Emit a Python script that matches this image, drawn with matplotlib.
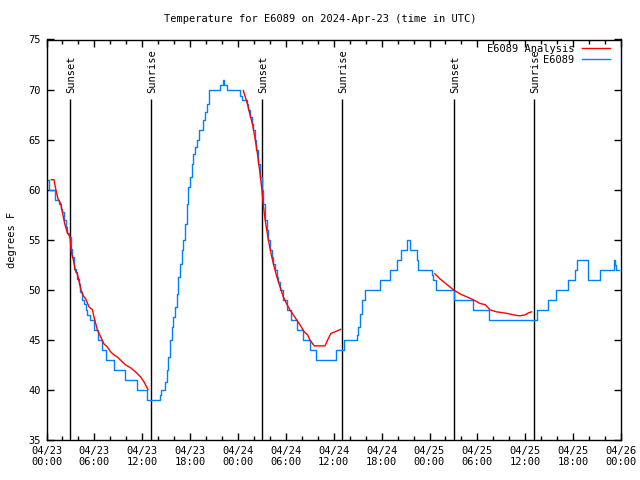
import matplotlib
matplotlib.use("Agg")
import matplotlib.pyplot as plt
import numpy as np

# ---- data (hours since 2024-04-23 00:00 UTC) ----
obs_t = [0.0, 0.31, 1.07, 1.57, 1.78, 1.98, 2.19, 2.4, 2.61, 2.82, 3.03, 3.24, 3.45, 3.66,
         3.86, 4.07, 4.2, 4.49, 4.7, 4.91, 5.1, 5.45, 5.9, 6.45, 6.95, 7.5, 8.46, 9.9,
         11.4, 12.6, 14.2, 14.4, 14.85, 15.06, 15.27, 15.48, 15.69, 15.9, 16.1, 16.3,
         16.5, 16.73, 16.94, 17.14, 17.36, 17.57, 17.77, 17.98, 18.2, 18.4, 18.6, 18.8,
         19.15, 19.65, 19.86, 20.15, 20.4, 21.8, 22.08, 22.3, 22.58, 24.25, 24.46, 25.1,
         25.3, 25.5, 25.7, 25.9, 26.1, 26.3, 26.5, 26.75, 26.97, 27.17, 27.38, 27.6,
         27.8, 28.0, 28.2, 28.4, 28.6, 28.85, 29.05, 29.26, 29.67, 30.1, 30.64, 31.35,
         32.2, 33.0, 33.77, 36.3, 37.25, 38.9, 39.0, 39.3, 39.6, 39.9, 41.8, 43.1, 43.9,
         44.4, 45.15, 45.6, 46.4, 46.6, 48.3, 48.5, 48.8, 51.05, 53.4, 55.45, 61.5,
         62.8, 63.8, 65.3, 66.2, 66.5, 67.85, 69.35, 71.1, 71.2, 71.4, 71.8]
obs_v = [61, 60, 59, 58.6, 58.1, 57.8, 57.0, 56.3, 55.7, 55.3, 54.1, 53.3, 52.1, 51.8,
         51.1, 50.6, 49.8, 49.0, 48.6, 48.0, 47.5, 47.0, 46.0, 45.0, 44.0, 43.0, 42.0, 41.0,
         40.0, 39.0, 39.5, 40.0, 40.8, 42.0, 43.3, 45.0, 46.3, 47.3, 48.3, 49.6,
         51.3, 52.6, 54.0, 55.0, 56.6, 58.6, 60.3, 61.3, 62.6, 63.6, 64.3, 65.0,
         66.0, 67.0, 67.8, 68.6, 70.0, 70.5, 71.0, 70.5, 70.0, 69.4, 69.0, 68.6,
         68.0, 67.3, 66.6, 66.0, 65.0, 64.0, 62.6, 61.3, 60.0, 58.6, 57.0, 56.0,
         55.0, 54.0, 53.3, 52.6, 52.0, 51.3, 50.8, 50.0, 49.0, 48.0, 47.0, 46.0,
         45.0, 44.0, 43.0, 44.0, 45.0, 45.5, 46.3, 47.6, 49.0, 50.0, 51.0, 52.0, 53.0,
         54.0, 55.0, 54.0, 53.0, 52.0, 51.5, 51.0, 50.0, 49.0, 48.0, 47.0, 48.0,
         49.0, 50.0, 51.0, 52.0, 53.0, 51.0, 52.0, 53.0, 52.5, 52.0, 52.0]

ana1_t = [0.6, 0.93, 1.15, 1.44, 1.78, 1.98, 2.28, 2.61, 2.95, 3.1, 3.36, 3.66, 3.86, 4.07,
          4.28, 4.61, 4.91, 5.33, 5.75, 5.95, 6.37, 6.79, 7.2, 7.62, 8.04, 8.46, 8.87,
          9.5, 9.92, 10.55, 11.17, 11.8, 12.22, 12.72]
ana1_v = [61, 61, 60.1, 59.1, 58.6, 57.8, 56.6, 55.7, 55.3, 53.8, 53.0, 51.8, 51.6, 50.9,
          50.1, 49.4, 49.1, 48.3, 48.0, 47.3, 46.0, 45.3, 44.6, 44.3, 43.8, 43.5, 43.3,
          42.8, 42.5, 42.2, 41.8, 41.3, 40.8, 40.05]
ana2_t = [24.66, 24.9, 25.2, 25.5, 25.8, 26.1, 26.4, 26.7, 27.0, 27.2, 27.4, 27.6, 27.8,
          28.0, 28.2, 28.5, 28.8, 29.1, 29.4, 29.67, 30.1, 30.5, 30.93, 31.35, 31.77,
          32.3, 32.73, 33.0, 33.56, 34.9, 35.3, 35.65, 36.15, 36.87]
ana2_v = [69.9, 69.3, 68.5, 67.5, 66.6, 65.3, 63.8, 62.0, 60.0, 58.3, 57.0, 56.0, 55.0,
          54.2, 53.4, 52.4, 51.5, 50.7, 50.0, 49.3, 48.6, 48.0, 47.5, 47.0, 46.5,
          45.8, 45.5, 45.0, 44.4, 44.4, 45.1, 45.65, 45.8, 46.05]
ana3_t = [48.68, 49.3, 50.15, 51.0, 51.8, 52.66, 53.5, 54.3, 55.0, 55.6, 56.4, 57.7, 58.5,
          59.3, 60.0, 60.4, 60.8]
ana3_v = [51.6, 51.1, 50.55, 50.0, 49.6, 49.3, 49.0, 48.65, 48.5, 48.0, 47.8, 47.65, 47.5,
          47.4, 47.5, 47.7, 47.8]

sun_t = [2.98, 13.13, 27.04, 37.07, 51.1, 61.1]
sun_lbl = ["Sunset", "Sunrise", "Sunset", "Sunrise", "Sunset", "Sunrise"]

xtick_pos = list(range(0, 73, 6))
xtick_lbl = ["04/23\n00:00", "04/23\n06:00", "04/23\n12:00", "04/23\n18:00",
             "04/24\n00:00", "04/24\n06:00", "04/24\n12:00", "04/24\n18:00",
             "04/25\n00:00", "04/25\n06:00", "04/25\n12:00", "04/25\n18:00",
             "04/26\n00:00"]
ytick_pos = [35, 40, 45, 50, 55, 60, 65, 70, 75]

RED = "#ff0000"
BLUE = "#0080ff"
FONT = "DejaVu Sans Mono"
FS = 7.5

plt.rcParams['font.family'] = [FONT, 'DejaVu Sans']
fig = plt.figure(figsize=(6.4, 4.8), dpi=100)
ax = fig.add_axes([46.5 / 640, 1 - 440 / 480, (621 - 46.5) / 640, (440 - 39.5) / 480])

# sunrise / sunset markers
ax.vlines(sun_t, 35, 69.05, colors="black", lw=1.0, zorder=1)
for t, lbl in zip(sun_t, sun_lbl):
    ax.text(t + 0.1, 69.7, lbl, rotation=90, ha="center", va="bottom",
            fontsize=FS, family=FONT)

ra = ax.plot(ana1_t, ana1_v, color=RED, lw=1.0, zorder=3, label="E6089 Analysis")[0]
ax.plot(ana2_t, ana2_v, color=RED, lw=1.0, zorder=3)
ax.plot(ana3_t, ana3_v, color=RED, lw=1.0, zorder=3)
bo = ax.plot(obs_t, obs_v, color=BLUE, lw=1.0, drawstyle="steps-post", zorder=2,
             label="E6089")[0]

ax.set_xlim(0, 72)
ax.set_ylim(35, 75)
ax.set_xticks(xtick_pos)
ax.set_xticklabels(xtick_lbl, fontsize=FS, family=FONT)
ax.set_xticks(list(range(0, 73, 2)), minor=True)
ax.set_yticks(ytick_pos)
ax.set_yticklabels([str(v) for v in ytick_pos], fontsize=FS, family=FONT)
ax.tick_params(which="both", direction="in", top=True, right=True, width=1, color="black")
ax.tick_params(which="major", length=5, pad=4)
ax.tick_params(which="minor", length=3)
for s in ax.spines.values():
    s.set_linewidth(1.0)

ax.set_ylabel("degrees F", fontsize=FS, family=FONT, labelpad=8)
fig.text(0.5, 1 - 19 / 480, "Temperature for E6089 on 2024-Apr-23 (time in UTC)",
         ha="center", va="center", fontsize=FS, family=FONT)

leg = ax.legend(handles=[ra, bo], loc="upper right", bbox_to_anchor=(1 - 11 / 574.5, 1 - 4 / 400.5),
                frameon=False, markerfirst=False, fontsize=FS, handlelength=2.7,
                handletextpad=0.7, labelspacing=0.15, borderpad=0, borderaxespad=0,
                prop={"family": FONT, "size": FS})

fig.savefig("out.png", dpi=100)
